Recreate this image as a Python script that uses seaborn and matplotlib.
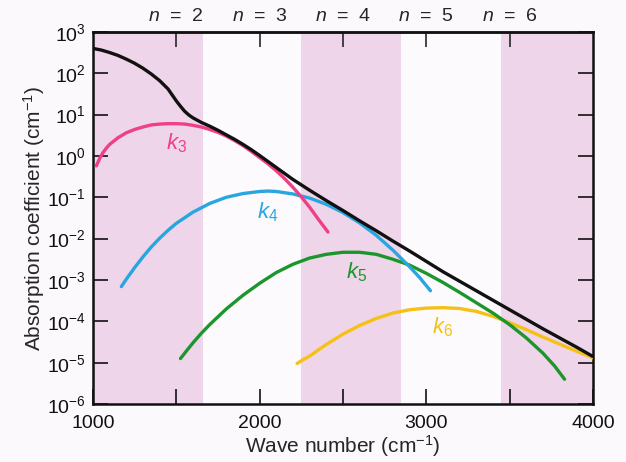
import numpy as np
import pandas as pd
import matplotlib.pyplot as plt
import seaborn as sns

####figure settings####
sns.set_style("ticks")
plt.rcParams["font.family"] = ["Liberation Sans", "DejaVu Sans"]
plt.rcParams["mathtext.fontset"] = "custom"
plt.rcParams["mathtext.rm"] = "Liberation Sans"
plt.rcParams["mathtext.it"] = "Liberation Sans:italic"
plt.rcParams["axes.linewidth"] = 1.8
plt.rcParams["xtick.labelsize"] = 14
plt.rcParams["ytick.labelsize"] = 14

# wave number (cm-1) and log10 of absorption coefficient
total_x = [1000, 1050, 1100, 1150, 1200, 1250, 1300, 1350, 1400, 1450, 1500, 1525, 1550,
           1575, 1600, 1650, 1700, 1750, 1800, 1850, 1900, 1950, 2000, 2100, 2200, 2300,
           2400, 2500, 2600, 2700, 2800, 2900, 3000, 3100, 3200, 3300, 3400, 3500, 3600,
           3700, 3800, 3900, 4000]
total_log = [2.60, 2.56, 2.50, 2.43, 2.34, 2.24, 2.12, 1.98, 1.82, 1.62, 1.33, 1.20, 1.08,
             0.99, 0.92, 0.81, 0.72, 0.62, 0.51, 0.40, 0.28, 0.15, 0.01, -0.28, -0.57, -0.83,
             -1.08, -1.32, -1.57, -1.81, -2.06, -2.30, -2.55, -2.80, -3.03, -3.26, -3.49,
             -3.72, -3.95, -4.18, -4.40, -4.62, -4.85]

k3_x = [1020, 1040, 1060, 1080, 1100, 1150, 1200, 1250, 1300, 1350, 1400, 1450, 1500,
        1550, 1600, 1650, 1700, 1750, 1800, 1850, 1900, 1950, 2000, 2050, 2100, 2150,
        2200, 2250, 2300, 2350, 2410]
k3_log = [-0.24, -0.06, 0.08, 0.19, 0.28, 0.44, 0.56, 0.64, 0.70, 0.75, 0.77, 0.78, 0.78,
          0.77, 0.74, 0.70, 0.64, 0.57, 0.48, 0.37, 0.25, 0.11, -0.04, -0.19, -0.36, -0.55,
          -0.76, -0.99, -1.24, -1.52, -1.84]

k4_x = [1170, 1200, 1250, 1300, 1350, 1400, 1450, 1500, 1600, 1700, 1800, 1900, 2000,
        2050, 2100, 2200, 2300, 2400, 2500, 2600, 2700, 2800, 2900, 2960, 3025]
k4_log = [-3.16, -2.98, -2.70, -2.44, -2.20, -1.99, -1.80, -1.63, -1.36, -1.15, -1.00,
          -0.91, -0.86, -0.85, -0.86, -0.92, -1.02, -1.17, -1.37, -1.62, -1.92, -2.28,
          -2.68, -2.94, -3.26]

k5_x = [1525, 1560, 1600, 1650, 1700, 1800, 1900, 2000, 2100, 2200, 2300, 2400, 2500,
        2600, 2700, 2800, 2900, 3000, 3100, 3200, 3300, 3400, 3500, 3600, 3700, 3770, 3830]
k5_log = [-4.90, -4.72, -4.52, -4.29, -4.08, -3.70, -3.37, -3.08, -2.82, -2.62, -2.47,
          -2.38, -2.33, -2.33, -2.38, -2.50, -2.64, -2.84, -3.06, -3.30, -3.55, -3.80,
          -4.08, -4.40, -4.77, -5.08, -5.40]

k6_x = [2225, 2260, 2300, 2400, 2500, 2600, 2700, 2800, 2900, 3000, 3100, 3200, 3300,
        3400, 3500, 3600, 3700, 3800, 3900, 4000]
k6_log = [-5.02, -4.93, -4.84, -4.56, -4.31, -4.10, -3.93, -3.80, -3.72, -3.68, -3.67,
          -3.69, -3.76, -3.88, -4.03, -4.20, -4.38, -4.55, -4.72, -4.88]

bands = [(1000, 1660), (2250, 2850), (3450, 4000)]
n_ticks = [1500, 2000, 2500, 3000, 3500]
n_labels = [r"$n$  =  2", r"$n$  =  3", r"$n$  =  4", r"$n$  =  5", r"$n$  =  6"]

curves = [
    ("total", total_x, total_log, "#111111"),
    ("k3", k3_x, k3_log, "#ee3f87"),
    ("k4", k4_x, k4_log, "#27a6e0"),
    ("k5", k5_x, k5_log, "#1c962c"),
    ("k6", k6_x, k6_log, "#f6c117"),
]
# label text, position (x, log10 y)
labels = [(r"$k_3$", 1500, 0.30, "#ee3f87"),
          (r"$k_4$", 2050, -1.36, "#27a6e0"),
          (r"$k_5$", 2580, -2.81, "#1c962c"),
          (r"$k_6$", 3100, -4.14, "#f6c117")]
#######################

fig = plt.figure(figsize=(6.26, 4.62), dpi=100, facecolor="#fcf9fc")
ax = fig.add_axes([0.1486, 0.1255, 0.7985, 0.8055])
ax.set_facecolor("#fdfafd")

for lo, hi in bands:
    ax.axvspan(lo, hi, color="#efd5e9", lw=0, zorder=0)

for name, xs, logs, col in curves[::-1]:
    df = pd.DataFrame({"x": xs, "y": 10.0 ** np.array(logs)})
    z = 5 if name == "total" else 3
    sns.lineplot(data=df, x="x", y="y", color=col, lw=2.4, ax=ax, zorder=z,
                 solid_capstyle="round", solid_joinstyle="round")

for txt, lx, ly, col in labels:
    ax.text(lx, 10.0 ** ly, txt, color=col, fontsize=16, ha="center", va="center")

ax.set_yscale("log")
ax.set_xlim(1000, 4000)
ax.set_ylim(1e-6, 1e3)
ax.set_xticks(range(1000, 4001, 500))
ax.set_xticklabels(["1000", "", "2000", "", "3000", "", "4000"])
ax.set_yticks([10.0 ** e for e in range(-6, 4)])
ax.set_yticklabels([r"$10^{%d}$" % e if e >= 0 else r"$10^{-%d}$" % -e for e in range(-6, 4)])
ax.minorticks_off()
ax.tick_params(axis="both", direction="in", length=11, width=1.2, right=True,
               color="#111111", labelcolor="#111111")
ax.tick_params(axis="x", pad=8)
ax.tick_params(axis="y", pad=5)

top = ax.secondary_xaxis("top")
top.set_xticks(n_ticks)
top.set_xticklabels(n_labels)
top.tick_params(direction="in", length=11, width=1.2, labelsize=14, pad=5)

for s in ax.spines.values():
    s.set_color("#111111")

ax.set_xlabel(r"Wave number (cm$^{-1}$)", fontsize=15, labelpad=1)
ax.set_ylabel(r"Absorption coefficient (cm$^{-1}$)", fontsize=15, labelpad=0)

plt.savefig("out.png", dpi=100, facecolor=fig.get_facecolor())
